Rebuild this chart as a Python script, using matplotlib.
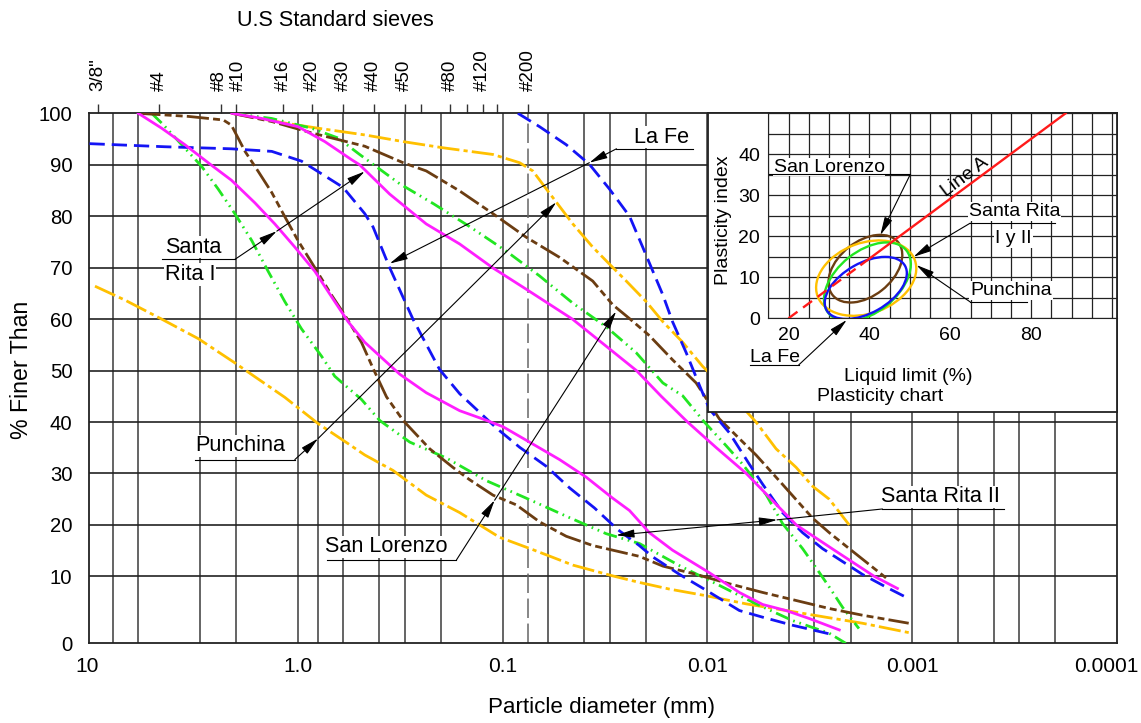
import numpy as np
import matplotlib
matplotlib.use('Agg')
import matplotlib.pyplot as plt
from matplotlib import font_manager as fm
from matplotlib.patches import Ellipse
from matplotlib.ticker import NullLocator, MultipleLocator
from matplotlib.transforms import ScaledTranslation

# the reference text is tall and narrow: use the narrow face if it is there
avail = {f.name for f in fm.fontManager.ttflist}
if 'Liberation Sans Narrow' in avail:
    plt.rcParams['font.family'] = ['Liberation Sans Narrow', 'DejaVu Sans']
    K = 1.2
else:
    plt.rcParams['font.family'] = ['Liberation Sans', 'DejaVu Sans']
    K = 1.04
plt.rcParams['lines.scale_dashes'] = False

# ---- grain size curves: diameter (mm) and % finer ----
la_fe_a_d = [10.4, 4.46, 2.11, 1.34, 0.959, 0.601, 0.471, 0.429, 0.356, 0.274, 0.203, 0.162, 0.107,
             0.0826, 0.0612, 0.0471, 0.0356, 0.0274, 0.0215, 0.0185, 0.0137, 0.0101, 0.00698,
             0.00537, 0.00384, 0.00245]
la_fe_a_p = [94.1, 93.5, 93.1, 92.6, 90.7, 85.6, 80.5, 77.9, 70.0, 60.0, 50.2, 45.5, 38.8,
             35.1, 31.4, 27.2, 23.3, 19.1, 16.0, 13.8, 10.4, 7.9, 4.9, 3.9, 2.7, 1.3]
la_fe_b_d = [0.0842, 0.066, 0.0489, 0.0377, 0.0301, 0.024, 0.0207, 0.0165, 0.0148, 0.0127, 0.0109,
             0.00977, 0.00781, 0.00624, 0.00537, 0.0043, 0.00343, 0.00274, 0.00219, 0.00175,
             0.00134, 0.00109]
la_fe_b_p = [100, 97.4, 93.9, 90.1, 85.3, 80.0, 74.0, 64.7, 59.5, 53.5, 47.0, 42.5, 37.9, 31.8,
             27.9, 22.4, 18.5, 15.4, 12.9, 10.4, 8.4, 7.0]

rita1_a_d = [6.01, 4.62, 3.56, 2.74, 2.11, 1.62, 1.295, 1.034, 0.826, 0.660, 0.568, 0.471, 0.318,
             0.236, 0.162, 0.125, 0.0997, 0.0739, 0.0527, 0.0391, 0.029, 0.024, 0.0192, 0.0148,
             0.00977, 0.00698, 0.00537, 0.00413, 0.00318, 0.00227]
rita1_a_p = [100, 97.1, 93.9, 90.4, 87.0, 82.6, 78.5, 74.0, 69.3, 63.4, 59.5, 55.5, 49.3, 45.7,
             42.2, 40.6, 39.1, 36.1, 32.7, 29.3, 25.2, 22.8, 18.5, 15.1, 10.7, 7.6, 5.8, 4.9, 3.7, 2.0]
rita1_b_d = [2.1, 1.50, 0.997, 0.738, 0.547, 0.499, 0.356, 0.236, 0.162, 0.112, 0.0766, 0.0456,
             0.0318, 0.0222, 0.0168, 0.0125, 0.00904, 0.00646, 0.00488, 0.00368, 0.00238, 0.00153,
             0.00118]
rita1_b_p = [100, 99.0, 97.4, 94.5, 91.0, 90.0, 84.3, 78.5, 74.6, 70.0, 65.8, 60.0, 55.0, 50.0,
             45.0, 40.0, 35.0, 30.0, 25.0, 20.0, 15.0, 10.0, 8.2]

lorenzo_a_d = [6.01, 3.43, 2.31, 2.11, 1.81, 1.56, 1.34, 1.157, 0.999, 0.826, 0.685, 0.590, 0.489,
               0.431, 0.369, 0.306, 0.227, 0.175, 0.145, 0.1115, 0.0857, 0.066, 0.0489, 0.0363,
               0.0269, 0.0215, 0.0165, 0.01135, 0.00781, 0.00537, 0.00369, 0.00254, 0.00175, 0.00104]
lorenzo_a_p = [100, 99.4, 98.7, 97.7, 92.6, 88.7, 84.6, 79.9, 75.3, 70.0, 64.7, 60.8, 55.5, 50.6,
               44.9, 40.3, 34.8, 31.2, 28.8, 25.8, 23.9, 20.6, 17.8, 16.0, 14.8, 13.9, 12.0, 10.4,
               8.9, 7.6, 6.4, 5.2, 4.2, 3.0]
lorenzo_b_d = [2.1, 1.34, 0.858, 0.636, 0.471, 0.306, 0.236, 0.162, 0.1115, 0.0766, 0.0527, 0.0363,
               0.029, 0.024, 0.0192, 0.0148, 0.01135, 0.00874, 0.00579, 0.0043, 0.00306, 0.00254,
               0.00203, 0.00162, 0.00132]
lorenzo_b_p = [100, 98.4, 96.2, 94.9, 93.6, 90.4, 88.8, 84.9, 80.5, 75.9, 72.0, 67.4, 62.8, 60.1,
               56.8, 52.1, 47.6, 40.6, 33.6, 27.9, 21.3, 18.5, 15.4, 12.3, 9.6]

rita2_a_d = [5.17, 4.54, 3.69, 2.95, 2.45, 2.03, 1.68, 1.396, 1.157, 0.959, 0.766, 0.660, 0.590,
             0.489, 0.398, 0.284, 0.188, 0.120, 0.0766, 0.0489, 0.0312, 0.0215, 0.0137, 0.00907,
             0.00579, 0.00384, 0.00254, 0.00211]
rita2_a_p = [100, 97.8, 93.9, 89.7, 85.3, 80.5, 75.3, 69.3, 63.4, 58.1, 52.8, 48.9, 47.2, 44.4,
             40.3, 36.1, 33.0, 28.6, 25.2, 21.7, 18.3, 16.4, 12.1, 8.9, 5.9, 3.4, 1.5, 0.0]
rita2_b_d = [2.1, 1.344, 0.858, 0.636, 0.499, 0.318, 0.217, 0.1438, 0.0959, 0.066, 0.0454, 0.0312,
             0.0223, 0.0165, 0.0132, 0.01035, 0.0081, 0.00673, 0.00517, 0.0043, 0.00343, 0.00295,
             0.00254, 0.00219, 0.00182]
rita2_b_p = [100, 99.0, 97.1, 95.2, 92.0, 86.3, 82.4, 77.9, 73.2, 68.4, 63.1, 58.5, 53.5, 47.6,
             45.1, 40.0, 35.4, 31.8, 25.9, 20.3, 15.4, 11.7, 8.4, 5.4, 2.2]

punchina_a_d = [9.78, 6.98, 4.62, 3.06, 2.03, 1.62, 1.157, 0.796, 0.568, 0.471, 0.343, 0.236, 0.162,
                0.1035, 0.0712, 0.0454, 0.029, 0.0215, 0.0153, 0.0101, 0.00648, 0.00413, 0.00264,
                0.00175, 0.00104]
punchina_a_p = [66.4, 63.7, 60.0, 56.2, 51.5, 48.8, 44.8, 39.7, 35.8, 33.6, 30.6, 25.8, 22.4, 17.6,
                15.2, 12.2, 10.1, 9.1, 8.1, 7.1, 5.9, 4.9, 3.9, 3.0, 1.6]
punchina_b_d = [2.1, 1.157, 0.796, 0.471, 0.306, 0.1955, 0.1115, 0.0826, 0.0712, 0.0612, 0.0527,
                0.0454, 0.0363, 0.0301, 0.0249, 0.0199, 0.0165, 0.0132, 0.01054, 0.0081, 0.00579,
                0.00462, 0.00369, 0.00306, 0.00254, 0.00203]
punchina_b_p = [100, 98.1, 97.1, 95.8, 94.5, 93.3, 92.0, 90.4, 88.8, 85.3, 81.9, 78.5, 74.0, 70.7,
                67.4, 63.4, 59.5, 55.5, 50.8, 46.4, 40.0, 34.8, 31.2, 27.5, 25.0, 20.0]

# sieves (mm) for the top axis
sieve_mm = [9.5, 4.75, 2.36, 2.0, 1.18, 0.85, 0.6, 0.425, 0.3, 0.25, 0.18, 0.15, 0.125, 0.106, 0.075]
sieve_lbl = ['3/8"', '#4', '#8', '#10', '#16', '#20', '#30', '#40', '#50', '', '#80', '', '#120', '', '#200']

grid_d = [8, 6, 3, 2, 1, 0.8, 0.6, 0.4, 0.3, 0.2, 0.1, 0.06, 0.04, 0.03, 0.02, 0.01,
          0.006, 0.004, 0.003, 0.002, 0.001, 0.0006, 0.0004, 0.0003, 0.0002]
pct_ticks = [0, 10, 20, 30, 40, 50, 60, 70, 80, 90, 100]
d_ticks = [10, 1, 0.1, 0.01, 0.001, 0.0001]
d_tick_lbl = ['10', '1.0', '0.1', '0.01', '0.001', '0.0001']

# plasticity chart: ellipses (LL centre, PI centre, width, height, angle)
pc_colors = ['#6b3d12', '#ffc000', '#22e622', '#1414f5']
pc_ll = [39.0, 39.2, 39.5, 39.1]
pc_pi = [12.1, 9.8, 8.9, 7.4]
pc_w = [20.7, 25.6, 24.6, 22.2]
pc_h = [13.3, 17.2, 15.0, 12.2]
pc_ang = [38, 20, 38, 29]
line_a_ll = [20, 38, 88.5]
line_a_pi = [0, 13.1, 50]

BLUE = '#1414f5'
MAGENTA = '#ff1eff'
BROWN = '#6b3d12'
GREEN = '#22e622'
ORANGE = '#ffc000'

W, H = 1141, 723
fig = plt.figure(figsize=(W / 100, H / 100), dpi=100)
ax = fig.add_axes([89 / W, 1 - 643.3 / H, (1117 - 89) / W, (643.3 - 113.3) / H])


def fwd(y):
    y = np.asarray(y, dtype=float)
    return np.where(y < 10, y * 1.3, y + 3)


def inv(z):
    z = np.asarray(z, dtype=float)
    return np.where(z < 13, z / 1.3, z - 3)


ax.set_xscale('log')
ax.set_yscale('function', functions=(fwd, inv))
ax.set_xlim(10.46, 0.0001)
ax.set_ylim(0, 100)

for g in grid_d:
    ax.axvline(g, color='#4a4a4a', lw=1.2, zorder=1)
for p in pct_ticks[1:-1]:
    ax.axhline(p, color='#222222', lw=1.2, zorder=1)
ax.axvline(0.075, color='#666666', lw=1.1, ls=(0, (14, 4)), zorder=1)

ax.set_xticks(d_ticks, labels=d_tick_lbl)
ax.xaxis.set_minor_locator(NullLocator())
ax.set_yticks(pct_ticks)
ax.yaxis.set_minor_locator(NullLocator())
ax.tick_params(axis='x', length=0, pad=10, labelsize=14.5 * K)
ax.tick_params(axis='y', length=0, pad=12, labelsize=14 * K)
xl = ax.get_xticklabels()
xl[0].set_transform(xl[0].get_transform() + ScaledTranslation(-6 / 100, 0, fig.dpi_scale_trans))
xl[-1].set_transform(xl[-1].get_transform() + ScaledTranslation(-11 / 100, 0, fig.dpi_scale_trans))
for s in ax.spines.values():
    s.set_linewidth(1.3)
    s.set_color('#222222')

lw = 2.0
ls_blue = (0, (11, 5))
ls_orange = (0, (16, 3, 3, 3))
ls_green = (0, (10, 3.5, 1.2, 3.5, 1.2, 3.5))
ls_brown = (0, (16, 3, 5, 3, 5, 3))

ax.plot(punchina_a_d, punchina_a_p, color=ORANGE, lw=lw, ls=ls_orange, zorder=3)
ax.plot(punchina_b_d, punchina_b_p, color=ORANGE, lw=lw, ls=ls_orange, zorder=3)
ax.plot(rita2_a_d, rita2_a_p, color=GREEN, lw=lw, ls=ls_green, zorder=3)
ax.plot(rita2_b_d, rita2_b_p, color=GREEN, lw=lw, ls=ls_green, zorder=3)
ax.plot(lorenzo_a_d, lorenzo_a_p, color=BROWN, lw=lw, ls=ls_brown, zorder=3)
ax.plot(lorenzo_b_d, lorenzo_b_p, color=BROWN, lw=lw, ls=ls_brown, zorder=3)
ax.plot(la_fe_a_d, la_fe_a_p, color=BLUE, lw=lw, ls=ls_blue, zorder=3)
ax.plot(la_fe_b_d, la_fe_b_p, color=BLUE, lw=lw, ls=ls_blue, zorder=3)
ax.plot(rita1_a_d, rita1_a_p, color=MAGENTA, lw=lw, zorder=3)
ax.plot(rita1_b_d, rita1_b_p, color=MAGENTA, lw=lw, zorder=3)

# top axis: US standard sieves
sec = ax.secondary_xaxis('top')
sec.set_xticks(sieve_mm, labels=sieve_lbl)
sec.xaxis.set_minor_locator(NullLocator())
sec.tick_params(length=6.7, width=1, pad=9, labelsize=13.5, labelrotation=90, color='#333333')
sec.spines['top'].set_visible(False)
tl = sec.get_xticklabels()
tl[2].set_transform(tl[2].get_transform() + ScaledTranslation(-2 / 100, 0, fig.dpi_scale_trans))
tl[3].set_transform(tl[3].get_transform() + ScaledTranslation(2 / 100, 0, fig.dpi_scale_trans))

fig.text(335 / W, 1 - 20 / H, 'U.S Standard sieves', fontsize=15 * K, ha='center', va='center')
fig.text(602 / W, 1 - 708 / H, 'Particle diameter (mm)', fontsize=15.5 * K, ha='center', va='center')
fig.text(22 / W, 1 - 370 / H, '% Finer Than', fontsize=16 * K, ha='center', va='center', rotation=90)

# leader labels on the grading chart
arr = dict(arrowstyle='-|>,head_length=1.1,head_width=0.25', color='k', lw=0.8,
           shrinkA=0, shrinkB=0, mutation_scale=10)
arr2 = dict(arrowstyle='<|-|>,head_length=1.1,head_width=0.25', color='k', lw=0.8,
            shrinkA=0, shrinkB=0, mutation_scale=10)
box = dict(fc='white', ec='none', pad=0.5)
tfs = 15 * K


def leader(a, p0, p1, p2=None, under=None):
    if under is not None:
        a.plot(under, [p0[1], p0[1]], color='k', lw=0.8, zorder=6, clip_on=False)
    a.annotate('', xy=p1, xytext=p0, arrowprops=arr, zorder=6, annotation_clip=False)
    if p2 is not None:
        a.annotate('', xy=p2, xytext=p1, arrowprops=arr, zorder=6, annotation_clip=False)


ax.text(0.0227, 94.3, 'La Fe', fontsize=tfs, ha='left', va='baseline', bbox=box, zorder=5)
leader(ax, (0.0278, 93.1), (0.0377, 90.4), (0.356, 70.8), under=[0.0278, 0.0118])

ax.text(4.46, 72.9, 'Santa', fontsize=tfs, ha='left', va='baseline', bbox=box, zorder=5)
ax.text(4.46, 67.6, 'Rita I', fontsize=tfs, ha='left', va='baseline', bbox=box, zorder=5)
leader(ax, (2.03, 71.6), (1.266, 77.1), (0.471, 88.7), under=[4.61, 2.03])

ax.text(3.18, 34.3, 'Punchina', fontsize=tfs, ha='left', va='baseline', bbox=box, zorder=5)
leader(ax, (1.034, 32.7), (0.796, 36.8), (0.0547, 82.7), under=[3.18, 1.034])

ax.text(0.738, 14.7, 'San Lorenzo', fontsize=tfs, ha='left', va='baseline', bbox=box, zorder=5)
leader(ax, (0.168, 13.2), (0.1094, 24.8), (0.0279, 61.5), under=[0.722, 0.168])

ax.text(0.00142, 24.4, 'Santa Rita II', fontsize=tfs, ha='left', va='baseline', bbox=box, zorder=5)
ax.plot([0.0014, 0.000356], [23.1, 23.1], color='k', lw=0.8, zorder=6)
ax.plot([0.0014, 0.00456], [23.1, 21.0], color='k', lw=0.8, zorder=6)
ax.annotate('', xy=(0.00456, 21.0), xytext=(0.0279, 18.0), arrowprops=arr2, zorder=6)

# ---- plasticity chart inset ----
bx = fig.add_axes([707.7 / W, 1 - 411.7 / H, (1117 - 707.7) / W, (411.7 - 113.3) / H], zorder=3)
bx.set_xticks([])
bx.set_yticks([])
bx.set_facecolor('white')
for s in bx.spines.values():
    s.set_linewidth(1.3)
    s.set_color('#222222')

pc = fig.add_axes([768.3 / W, 1 - 318.3 / H, (1117 - 768.3) / W, (318.3 - 113.3) / H], zorder=4)
pc.patch.set_alpha(0)
pc.set_xlim(15, 101.2)
pc.set_ylim(0, 50)
pc.set_xticks([20, 40, 60, 80])
pc.set_yticks([0, 10, 20, 30, 40])
pc.xaxis.set_minor_locator(MultipleLocator(5))
pc.yaxis.set_minor_locator(MultipleLocator(5))
pc.grid(which='both', color='#222222', lw=0.9)
pc.set_axisbelow(True)
pc.tick_params(which='both', length=0)
pc.tick_params(axis='x', pad=6, labelsize=13.5 * K)
pc.tick_params(axis='y', pad=6, labelsize=13.5 * K)
pc.spines['top'].set_visible(False)
pc.spines['right'].set_visible(False)
pc.spines['left'].set_color('#222222')
pc.spines['bottom'].set_color('#222222')

for c, x0, y0, w_, h_, a_ in zip(pc_colors, pc_ll, pc_pi, pc_w, pc_h, pc_ang):
    pc.add_patch(Ellipse((x0, y0), w_, h_, angle=a_, fill=False, ec=c, lw=1.7, zorder=3))
pc.plot(line_a_ll[:2], line_a_pi[:2], color='#ff1a1a', lw=1.7, ls=(0, (8, 5)), zorder=4)
pc.plot(line_a_ll[1:], line_a_pi[1:], color='#ff1a1a', lw=1.7, zorder=4)
pc.text(63.7, 34.4, 'Line A', fontsize=13.5 * K, rotation=37, ha='center', va='center',
        rotation_mode='anchor', zorder=5)

ifs = 13.5 * K
pc.text(16.3, 35.8, 'San Lorenzo', fontsize=ifs, ha='left', va='baseline', bbox=box, zorder=5)
leader(pc, (50.1, 35.1), (42.7, 20.3), under=[15.06, 50.1])
pc.text(64.5, 24.9, 'Santa Rita', fontsize=ifs, ha='left', va='baseline', bbox=box, zorder=5)
pc.text(71.1, 18.4, 'I y II', fontsize=ifs, ha='left', va='baseline', bbox=box, zorder=5)
leader(pc, (64.9, 23.2), (50.9, 15.0), under=[64.9, 85.9])
pc.text(64.9, 5.7, 'Punchina', fontsize=ifs, ha='left', va='baseline', bbox=box, zorder=5)
leader(pc, (64.9, 4.0), (51.6, 13.0), under=[64.9, 78.9])
pc.text(10.4, -10.6, 'La Fe', fontsize=ifs, ha='left', va='baseline', clip_on=False, zorder=5)
leader(pc, (22.5, -11.4), (34.4, -0.4), under=[10.5, 22.5])

pc.text(3.9, 24, 'Plasticity index', fontsize=ifs, rotation=90, ha='center', va='center', clip_on=False)
pc.text(49.6, -14.3, 'Liquid limit (%)', fontsize=ifs, ha='center', va='center', clip_on=False)
pc.text(42.6, -19.1, 'Plasticity chart', fontsize=ifs, ha='center', va='center', clip_on=False)

fig.savefig('out.png', dpi=100)
